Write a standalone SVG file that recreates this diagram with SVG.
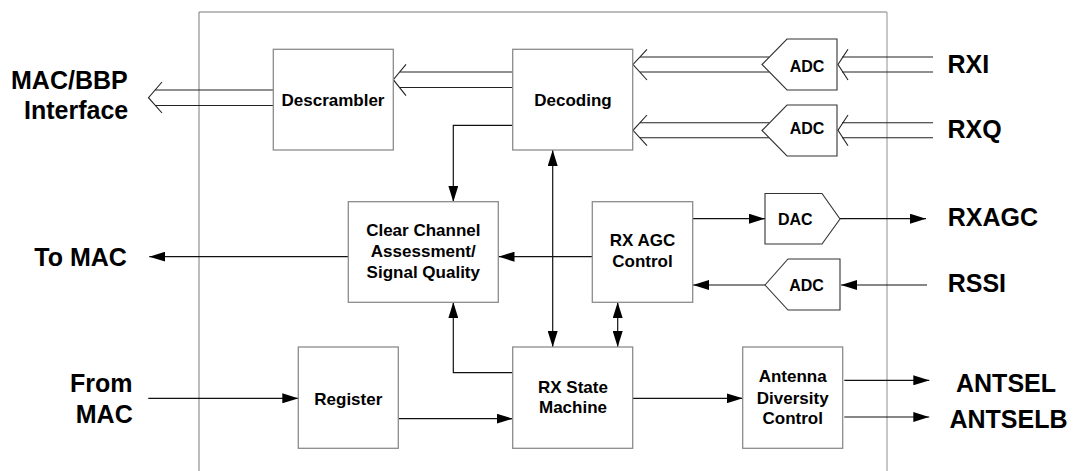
<svg xmlns="http://www.w3.org/2000/svg" width="1076" height="471" viewBox="0 0 1076 471">
<defs>
<marker id="ah" markerUnits="userSpaceOnUse" markerWidth="16" markerHeight="10" refX="16" refY="5" orient="auto-start-reverse" viewBox="0 0 16 10">
<path d="M0,0 L16,5 L0,10 z" fill="#000"/>
</marker>
</defs>
<style>
.box{fill:#fff;stroke:#8c8c8c;stroke-width:1.3}
.conv{fill:#fff;stroke:#333;stroke-width:1.1}
.ln{fill:none;stroke:#111;stroke-width:1.2}
.dl{fill:none;stroke:#222;stroke-width:1.1}
.big{font-family:"Liberation Sans",Arial,sans-serif;font-weight:bold;font-size:25px;fill:#000}
.lbl{font-family:"Liberation Sans",Arial,sans-serif;font-weight:bold;font-size:17px;fill:#000;text-anchor:middle}
.sm{font-family:"Liberation Sans",Arial,sans-serif;font-weight:bold;font-size:16px;fill:#000;text-anchor:middle}
</style>
<rect width="1076" height="471" fill="#fff"/>
<g id="frame">
<line x1="199" y1="12" x2="887" y2="12" stroke="#7a7a7a" stroke-width="1"/>
<line x1="199" y1="12" x2="199" y2="471" stroke="#7a7a7a" stroke-width="1"/>
<line x1="887" y1="12" x2="887" y2="471" stroke="#aaa" stroke-width="1.3"/>
</g>
<g id="connectors">
<!-- Descrambler to MAC/BBP (double) -->
<line class="dl" x1="273" y1="90" x2="155" y2="90"/>
<line class="dl" x1="273" y1="105.5" x2="155" y2="105.5"/>
<polyline class="dl" points="162,82 148.5,97.7 162,113"/>
<!-- Decoding to Descrambler (double) -->
<line class="dl" x1="513" y1="72" x2="400" y2="72"/>
<line class="dl" x1="513" y1="87.5" x2="400" y2="87.5"/>
<polyline class="dl" points="406,64.3 393.3,79.7 406,95.7"/>
<!-- ADC1 to Decoding -->
<line class="dl" x1="769" y1="57" x2="640" y2="57"/>
<line class="dl" x1="769" y1="72" x2="640" y2="72"/>
<polyline class="dl" points="647,49.3 633,64.5 647,80"/>
<!-- RXI to ADC1 -->
<line class="dl" x1="933" y1="57" x2="842" y2="57"/>
<line class="dl" x1="933" y1="72" x2="842" y2="72"/>
<polyline class="dl" points="848,49.3 838,64.5 848,80"/>
<!-- ADC2 to Decoding -->
<line class="dl" x1="769" y1="122.7" x2="640" y2="122.7"/>
<line class="dl" x1="769" y1="137.7" x2="640" y2="137.7"/>
<polyline class="dl" points="647,115 633,130.3 647,145.7"/>
<!-- RXQ to ADC2 -->
<line class="dl" x1="933" y1="122.7" x2="842" y2="122.7"/>
<line class="dl" x1="933" y1="137.7" x2="842" y2="137.7"/>
<polyline class="dl" points="848,115 838,130.3 848,145.7"/>
<!-- Decoding to CCA -->
<polyline class="ln" points="513,125.3 453.3,125.3 453.3,201.7" marker-end="url(#ah)"/>
<!-- Decoding <-> RX State Machine -->
<line class="ln" x1="552.7" y1="150" x2="552.7" y2="347" marker-start="url(#ah)" marker-end="url(#ah)"/>
<!-- CCA to To MAC -->
<line class="ln" x1="348" y1="256.7" x2="149.3" y2="256.7" marker-end="url(#ah)"/>
<!-- RX AGC to CCA -->
<line class="ln" x1="592" y1="256.7" x2="498.5" y2="256.7" marker-end="url(#ah)"/>
<!-- RX AGC to DAC -->
<line class="ln" x1="693" y1="218.7" x2="765" y2="218.7" marker-end="url(#ah)"/>
<!-- DAC to RXAGC -->
<line class="ln" x1="840" y1="218.7" x2="926" y2="218.7" marker-end="url(#ah)"/>
<!-- RSSI to ADC3 -->
<line class="ln" x1="927" y1="285" x2="841" y2="285" marker-end="url(#ah)"/>
<!-- ADC3 to RX AGC -->
<line class="ln" x1="765" y1="285" x2="693" y2="285" marker-end="url(#ah)"/>
<!-- RX AGC <-> RX State -->
<line class="ln" x1="617.7" y1="302.3" x2="617.7" y2="347" marker-start="url(#ah)" marker-end="url(#ah)"/>
<!-- RX State to CCA -->
<polyline class="ln" points="513,372.7 453.3,372.7 453.3,302.3" marker-end="url(#ah)"/>
<!-- From MAC to Register -->
<line class="ln" x1="148.3" y1="398.3" x2="298.3" y2="398.3" marker-end="url(#ah)"/>
<!-- Register to RX State -->
<line class="ln" x1="398.3" y1="418.7" x2="512.7" y2="418.7" marker-end="url(#ah)"/>
<!-- RX State to Antenna -->
<line class="ln" x1="633" y1="398.3" x2="742.7" y2="398.3" marker-end="url(#ah)"/>
<!-- Antenna to ANTSEL / ANTSELB -->
<line class="ln" x1="844.3" y1="380.3" x2="929.3" y2="380.3" marker-end="url(#ah)"/>
<line class="ln" x1="844.3" y1="417" x2="929.3" y2="417" marker-end="url(#ah)"/>
</g>
<g id="descrambler">
<rect class="box" x="273.3" y="49.3" width="120" height="100.7"/>
<text class="lbl" x="333" y="106">Descrambler</text>
</g>
<g id="decoding">
<rect class="box" x="512.7" y="49.3" width="120" height="100.7"/>
<text class="lbl" x="573" y="105.5">Decoding</text>
</g>
<g id="adc-rxi">
<polygon class="conv" points="762,64.5 787,39 837,39 837,90 787,90"/>
<text class="sm" x="807" y="71.7">ADC</text>
</g>
<g id="adc-rxq">
<polygon class="conv" points="762,130.5 787,105 837,105 837,156 787,156"/>
<text class="sm" x="807" y="133.5">ADC</text>
</g>
<g id="cca">
<rect class="box" x="348.3" y="201.7" width="150" height="100.6"/>
<text class="lbl" x="423.3" y="236">Clear Channel</text>
<text class="lbl" x="423.3" y="257">Assessment/</text>
<text class="lbl" x="423.3" y="278">Signal Quality</text>
</g>
<g id="rxagc">
<rect class="box" x="592.3" y="201.7" width="100.4" height="100.6"/>
<text class="lbl" x="642.5" y="246">RX AGC</text>
<text class="lbl" x="642.5" y="266.7">Control</text>
</g>
<g id="dac">
<polygon class="conv" points="765,193.5 822,193.5 840,219 822,244 765,244"/>
<text class="sm" x="795.3" y="225">DAC</text>
</g>
<g id="adc-rssi">
<polygon class="conv" points="765,285 788,259 840,259 840,310 788,310"/>
<text class="sm" x="806.5" y="290.7">ADC</text>
</g>
<g id="register">
<rect class="box" x="298.3" y="347" width="100" height="101.3"/>
<text class="lbl" x="348.3" y="405.3">Register</text>
</g>
<g id="rxstate">
<rect class="box" x="512.7" y="347" width="120" height="101.3"/>
<text class="lbl" x="573" y="392.7">RX State</text>
<text class="lbl" x="573" y="413.3">Machine</text>
</g>
<g id="antenna">
<rect class="box" x="742.7" y="347" width="100" height="101.3"/>
<text class="lbl" x="792.7" y="382">Antenna</text>
<text class="lbl" x="792.7" y="403.5">Diversity</text>
<text class="lbl" x="792.7" y="424.3">Control</text>
</g>
<g id="labels">
<text class="big" x="11" y="89.3">MAC/BBP</text>
<text class="big" x="24" y="118.7">Interface</text>
<text class="big" x="34.3" y="266">To MAC</text>
<text class="big" x="132.5" y="391.7" text-anchor="end">From</text>
<text class="big" x="132.7" y="422.7" text-anchor="end">MAC</text>
<text class="big" x="947.5" y="73">RXI</text>
<text class="big" x="947.5" y="137.5">RXQ</text>
<text class="big" x="947.7" y="226">RXAGC</text>
<text class="big" x="947.7" y="291.7">RSSI</text>
<text class="big" x="1006" y="391.7" text-anchor="middle">ANTSEL</text>
<text class="big" x="1008.5" y="427.7" text-anchor="middle">ANTSELB</text>
</g>
</svg>
